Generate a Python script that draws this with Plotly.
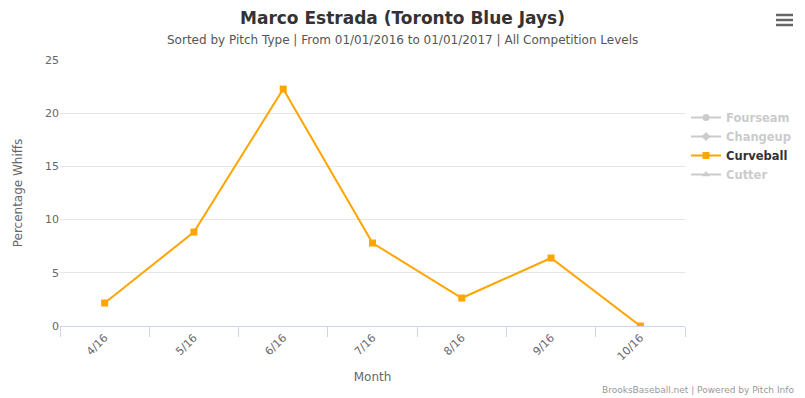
import plotly.graph_objects as go

months = ["4/16", "5/16", "6/16", "7/16", "8/16", "9/16", "10/16"]
curveball = [2.16, 8.83, 22.27, 7.8, 2.63, 6.39, 0.0]
hidden_symbols = {"Fourseam": "circle", "Changeup": "diamond", "Cutter": "triangle-up"}
order = ["Fourseam", "Changeup", "Curveball", "Cutter"]

FONT = "DejaVu Sans, Lucida Grande, sans-serif"
W, H = 805, 398
L, R, T, B = 60, 120, 60, 72
PW, PH = W - L - R, H - T - B


def px(x):
    return (x - L) / PW


def py(y):
    return (H - B - y) / PH


fig = go.Figure()
for name in order:
    if name == "Curveball":
        fig.add_trace(go.Scatter(
            x=months, y=curveball, name="<b>Curveball</b>", mode="lines+markers",
            line=dict(color="#FFA500", width=2),
            marker=dict(symbol="square", size=7, color="#FFA500"),
        ))
    else:
        fig.add_trace(go.Scatter(
            x=[None], y=[None], name="<b><span style='color:#999'>%s</span></b>" % name,
            mode="lines+markers", visible="legendonly",
            line=dict(color="#999", width=2),
            marker=dict(symbol=hidden_symbols[name], size=7, color="#999"),
        ))

fig.update_layout(
    width=W, height=H,
    paper_bgcolor="white", plot_bgcolor="white",
    font=dict(family=FONT, color="#333"),
    margin=dict(l=L, r=R, t=T, b=B, autoexpand=False),
    title=dict(
        text="<b>Marco Estrada (Toronto Blue Jays)</b>",
        x=0.5, xref="container", xanchor="center", y=1 - 18 / H, yref="container", yanchor="middle",
        font=dict(size=17, color="#333", family=FONT),
    ),
    showlegend=True,
    legend=dict(
        x=px(686), xanchor="left", y=py(103), yanchor="top",
        font=dict(size=11.5, color="#333", family=FONT),
        tracegroupgap=0, itemwidth=30, bgcolor="rgba(0,0,0,0)",
    ),
    xaxis=dict(
        type="category", categoryorder="array", categoryarray=months,
        showgrid=False, showline=True, linecolor="#ccd6eb", linewidth=1,
        ticks="outside", tickson="boundaries", ticklen=10, tickcolor="#ccd6eb",
        tickangle=-45, tickfont=dict(size=11, color="#666"),
        title=dict(text="Month", font=dict(size=12, color="#666"), standoff=10),
        range=[-0.5, 6.5], zeroline=False, automargin=False,
    ),
    yaxis=dict(
        range=[0, 25], dtick=5, showgrid=True, gridcolor="#e6e6e6", zeroline=False,
        tickfont=dict(size=11, color="#666"), ticks="", showline=False,
        title=dict(text="Percentage Whiffs", font=dict(size=12, color="#666"), standoff=19),
        automargin=False,
    ),
    annotations=[
        dict(text="Sorted by Pitch Type | From 01/01/2016 to 01/01/2017 | All Competition Levels",
             x=px(402), y=py(40), xref="paper", yref="paper", showarrow=False,
             xanchor="center", yanchor="middle", font=dict(size=12, color="#555")),
        dict(text="BrooksBaseball.net | Powered by Pitch Info",
             x=px(796), y=py(390), xref="paper", yref="paper", showarrow=False,
             xanchor="right", yanchor="middle", font=dict(size=9, color="#999")),
    ],
)

# context menu icon (three lines)
for yy in (15, 20, 25):
    fig.add_shape(type="line", xref="paper", yref="paper",
                  x0=px(776), x1=px(793), y0=py(yy), y1=py(yy),
                  line=dict(color="#666", width=2.5))

fig.write_html("out.html", config={"displayModeBar": False},
               post_script="document.body.style.margin='0';")
